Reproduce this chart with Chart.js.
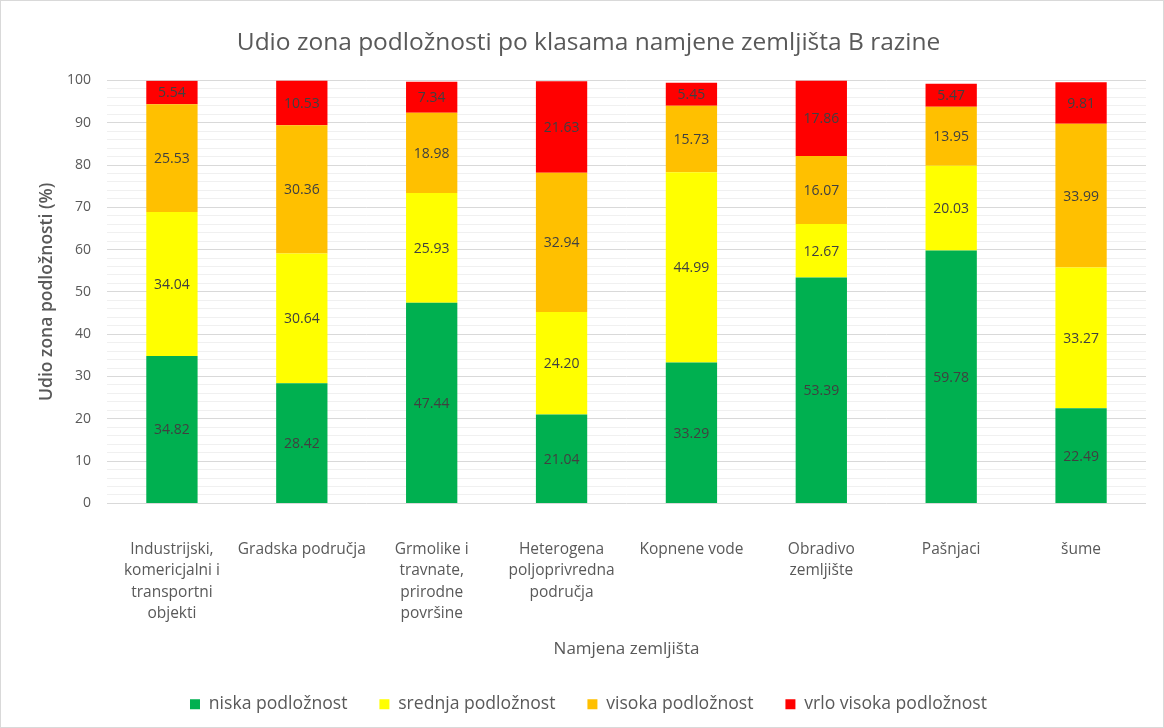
<!DOCTYPE html>
<html lang="hr">
<head>
<meta charset="UTF-8">
<title>Udio zona podložnosti</title>
<style>
    body { margin: 0; background: #fff; }
    #wrap { position: relative; width: 1164px; height: 728px; }
</style>
<script src="https://cdn.jsdelivr.net/npm/chart.js"></script>
</head>
<body>
<div id="wrap"><canvas id="chart"></canvas></div>
<script>
    const categories = [
        ['Industrijski,', 'komericjalni i', 'transportni', 'objekti'],
        'Gradska područja',
        ['Grmolike i', 'travnate,', 'prirodne', 'površine'],
        ['Heterogena', 'poljoprivredna', 'područja'],
        'Kopnene vode',
        ['Obradivo', 'zemljište'],
        'Pašnjaci',
        'šume'
    ];
    const niska = [34.82, 28.42, 47.44, 21.04, 33.29, 53.39, 59.78, 22.49];
    const srednja = [34.04, 30.64, 25.93, 24.20, 44.99, 12.67, 20.03, 33.27];
    const visoka = [25.53, 30.36, 18.98, 32.94, 15.73, 16.07, 13.95, 33.99];
    const vrloVisoka = [5.54, 10.53, 7.34, 21.63, 5.45, 17.86, 5.47, 9.81];
    const yTicks = [0, 10, 20, 30, 40, 50, 60, 70, 80, 90, 100];

    const FONT = '"Open Sans", sans-serif';
    const TEXT = '#595959';

    // value labels in the middle of each segment
    const segmentLabels = {
        id: 'segmentLabels',
        afterDatasetsDraw(chart) {
            const ctx = chart.ctx;
            ctx.save();
            ctx.font = '14px ' + FONT;
            ctx.fillStyle = '#404040';
            ctx.textAlign = 'center';
            ctx.textBaseline = 'middle';
            chart.data.datasets.forEach((ds, i) => {
                const meta = chart.getDatasetMeta(i);
                meta.data.forEach((bar, j) => {
                    const y = (bar.y + bar.base) / 2;
                    ctx.fillText(ds.data[j].toFixed(2), bar.x, y + 1);
                });
            });
            ctx.restore();
        }
    };

    // thin frame around the whole chart
    const frame = {
        id: 'frame',
        beforeDraw(chart) {
            const ctx = chart.ctx;
            ctx.save();
            ctx.fillStyle = '#fff';
            ctx.fillRect(0, 0, chart.width, chart.height);
            ctx.strokeStyle = '#d9d9d9';
            ctx.lineWidth = 1;
            ctx.strokeRect(0.5, 0.5, chart.width - 1, chart.height - 1);
            ctx.restore();
        }
    };

    function series(label, data, color) {
        return {
            label: label,
            data: data,
            backgroundColor: color,
            borderWidth: 0,
            categoryPercentage: 1,
            barPercentage: 0.395
        };
    }

    new Chart(document.getElementById('chart'), {
        type: 'bar',
        data: {
            labels: categories,
            datasets: [
                series('niska podložnost', niska, '#00B050'),
                series('srednja podložnost', srednja, '#FFFF00'),
                series('visoka podložnost', visoka, '#FFC000'),
                series('vrlo visoka podložnost', vrloVisoka, '#FF0000')
            ]
        },
        options: {
            responsive: true,
            maintainAspectRatio: false,
            animation: false,
            layout: { padding: { left: 13, right: 0, top: 0, bottom: 5 } },
            plugins: {
                title: {
                    display: true,
                    text: 'Udio zona podložnosti po klasama namjene zemljišta B razine',
                    color: TEXT,
                    font: { family: FONT, size: 24.5, weight: 'normal' },
                    padding: { top: 28, bottom: 23 }
                },
                legend: {
                    position: 'bottom',
                    labels: {
                        color: TEXT,
                        font: { family: FONT, size: 17.6 },
                        boxWidth: 10,
                        boxHeight: 10,
                        padding: 32
                    }
                },
                tooltip: { enabled: false }
            },
            scales: {
                x: {
                    stacked: true,
                    grid: { display: false, drawTicks: false },
                    border: { display: false },
                    ticks: {
                        color: TEXT,
                        font: { family: FONT, size: 15.5, lineHeight: 1.36 },
                        padding: 36,
                        maxRotation: 0,
                        autoSkip: false
                    },
                    title: {
                        display: true,
                        text: 'Namjena zemljišta',
                        color: TEXT,
                        font: { family: FONT, size: 17 },
                        padding: { top: 0, bottom: 4 }
                    },
                    afterFit(scale) { scale.height = 160; }
                },
                y: {
                    stacked: true,
                    min: 0,
                    max: 100,
                    grid: {
                        drawTicks: false,
                        color: ctx => yTicks.includes(ctx.tick.value) ? '#d9d9d9' : '#f0f0f0',
                        lineWidth: 1
                    },
                    border: { display: false },
                    ticks: {
                        stepSize: 2,
                        autoSkip: false,
                        color: TEXT,
                        font: { family: FONT, size: 14 },
                        padding: 16,
                        callback: v => yTicks.includes(v) ? v : ''
                    },
                    title: {
                        display: true,
                        text: 'Udio zona podložnosti (%)',
                        color: TEXT,
                        font: { family: FONT, size: 17.5, weight: 600 },
                        padding: { top: 24, bottom: 0 }
                    },
                    afterFit(scale) { scale.width = 94; }
                },
                // empty strip on the right so the plot ends where it should
                yRight: {
                    position: 'right',
                    grid: { display: false },
                    border: { display: false },
                    ticks: { display: false },
                    afterFit(scale) { scale.width = 18; }
                }
            }
        },
        plugins: [frame, segmentLabels]
    });
</script>
</body>
</html>
